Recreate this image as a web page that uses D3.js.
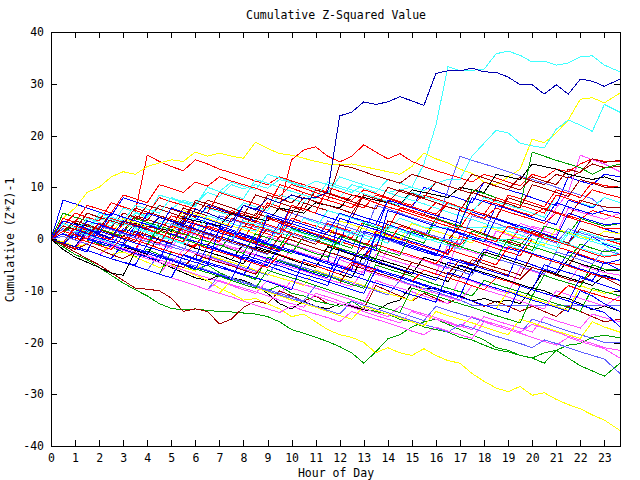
<!DOCTYPE html>
<html>
<head>
<meta charset="utf-8">
<script src="https://cdn.jsdelivr.net/npm/d3@7"></script>
<style>
  body { margin: 0; background: #fff; }
  svg text { font-family: "DejaVu Sans Mono", monospace; font-size: 11.5px; fill: #000; }
</style>
</head>
<body>
<script>
// sample hours (every half hour, last sample just before midnight)
const hours = [0, 0.5, 1, 1.5, 2, 2.5, 3, 3.5,  4, 4.5, 5, 5.5, 6, 6.5, 7, 7.5,  8, 8.5, 9, 9.5, 10, 10.5, 11, 11.5,
  12, 12.5, 13, 13.5, 14, 14.5, 15, 15.5,  16, 16.5, 17, 17.5, 18, 18.5, 19, 19.5,  20, 20.5, 21, 21.5, 22, 22.5, 23, 23.65];
const hourTicks = [0, 1, 2, 3, 4, 5, 6, 7, 8, 9, 10, 11, 12, 13, 14, 15, 16, 17, 18, 19, 20, 21, 22, 23];
const valueTicks = [-40, -30, -20, -10, 0, 10, 20, 30, 40];

// red
const red1 = [0, 2, 1.2, 4, 3.2, 2.5, 6, 5.2,  16.2, 15, 14, 13.2, 15.3, 14.5, 13.5, 12.8,  12, 11.2, 10.5, 12, 11.2, 10.5, 9.8, 9,  8.2, 7.5, 9.5, 8.8, 8, 7.2, 6.5, 8.5,  7.8, 7, 6.2, 5.5, 7.5, 6.8, 6, 5.2,  4.5, 6, 5.2, 4.5, 3.8, 5.5, 4.8, 4];
const red2 = [0, 1.5, 0.8, 0, 2.5, 1.8, 1, 0.2,  3, 2.2, 1.5, 0.8, 4, 3.2, 2.5, 5.5,  4.8, 4, 7, 6.2, 15.3, 17.2, 17.8, 16,  14.9, 16, 18.2, 16.8, 15.5, 16.5, 15, 14,  13.2, 12.5, 11.8, 11, 12.5, 11.8, 11, 10.3,  12.5, 11.8, 13.5, 13, 14.5, 15.5, 15, 15];
const red3 = [0, -1, 2, 1.2, 0.5, -0.2, 3, 2.2,  1.5, 0.8, 0, 2.5, 1.8, 1, 0.2, -0.5,  2.5, 1.8, 1, 0.2, 4, 3.2, 2.5, 1.8,  1, 0.2, 3.5, 2.8, 2, 6, 5.2, 4.5,  3.8, 3, 2.2, 5.5, 4.8, 4, 8.5, 7.8,  7, 6.2, 9.5, 8.8, 8, 11, 10.3, 10];
const red4 = [0, 3, 2.2, 1.5, 5, 4.2, 3.5, 2.8,  2, 1.2, 4.5, 3.8, 3, 2.2, 1.5, 0.8,  0, 3.5, 2.8, 2, 1.2, 0.5, -0.2, 3,  2.2, 1.5, 0.8, 0, -0.8, 2.5, 1.8, 1,  0.2, -0.5, -1.2, 1.5, 0.8, 0, -0.8, 2,  1.2, 0.5, -0.2, -1, 1.5, 0.8, 0, -1];
const red5 = [0, -1, -1.8, 1, 0.2, -0.5, -1.2, -2,  1.5, 0.8, 0, -0.8, -1.5, 2.5, 1.8, 1,  0.2, -0.5, 4, 3.2, 2.5, 1.8, 1, 0.2,  -0.5, -1.2, -2, 1.5, 0.8, 0, -0.8, -1.5,  -2.2, -3, 0.5, -0.2, -1, -1.8, -2.5, -3.2,  0, -0.8, -1.5, -2.2, -3, -3.8, -4.5, -5];
const red6 = [0, -0.8, 2.5, 1.8, 1, 4, 3.2, 2.5,  1.8, 1, 0.2, -0.5, 3, 2.2, 1.5, 0.8,  0, -0.8, -1.5, -2.2, 1, 0.2, -0.5, -1.2,  -2, -2.8, -3.5, -1, -1.8, -2.5, -3.2, -4,  -4.8, -2, -2.8, -3.5, -4.2, -5, -1.5, -2.2,  -3, -3.8, -4.5, -5.2, -6, -6.8, -7.5, -8];
const red7 = [0, 2.5, 5, 4.2, 3.5, 7, 6.2, 5.5,  4.8, 8, 7.2, 6.5, 5.8, 5, 9, 8.2,  7.5, 6.8, 6, 10.5, 9.8, 9, 8.2, 7.5,  6.8, 6, 8.5, 7.8, 7, 6.2, 5.5, 4.8,  7, 6.2, 5.5, 4.8, 4, 6, 5.2, 4.5,  3.8, 3, 5, 4.2, 3.5, 2.8, 2, 2];
const red8 = [0, 1, 0.2, -0.5, -1.2, -2, 0.5, -0.2,  -1, -1.8, -2.5, -3.2, -1, -1.8, -2.5, -3.2,  -4, -4.8, -5.5, -3, -3.8, -4.5, -5.2, -6,  -6.8, -4.5, -5.2, -6, -6.8, -7.5, -8.2, -6,  -6.8, -7.5, -8.2, -9, -9.8, -7.5, -8.2, -9,  -9.8, -10.5, -11.2, -9, -9.8, -10.5, -11.2, -12];
const red9 = [0, 4, 3.2, 6.5, 5.8, 5, 8.5, 7.8,  7, 10.5, 9.8, 9, 11, 10.2, 12, 11.2,  10.5, 9.8, 9, 8.2, 10.5, 9.8, 9, 8.2,  7.5, 6.8, 6, 8.5, 7.8, 7, 6.2, 5.5,  4.8, 7, 6.2, 5.5, 4.8, 8, 7.2, 6.5,  5.8, 5, 8.5, 7.8, 7, 9.5, 8.8, 8];
const red10 = [0, 1.5, 0.8, 0, 3, 2.2, 1.5, 0.8,  0, -0.8, 2.5, 1.8, 1, 0.2, -0.5, 4,  3.2, 2.5, 1.8, 1, 6.5, 5.8, 5, 10,  9.2, 8.5, 7.8, 7, 6.2, 5.5, 4.8, 4,  3.2, 2.5, 1.8, 1, 0.2, -0.5, 2.5, 1.8,  1, 0.2, -0.5, -1.2, -2, -2.8, -3.5, -3];

// dark red
const darkRed1 = [0, -1.2, -2.5, -3.8, -5, -6.5, -8, -9.5,  -9.7, -10, -11.4, -14, -13.5, -14, -16.4, -15.5,  -13.2, -12, -12.5, -10, -11, -12, -11, -12.5,  -13, -12, -13.5, -9, -10, -11, -12, -10.5,  -11.5, -12.5, -11, -12, -13, -12, -13, -14,  -13, -14, -15, -13, -14, -15, -16, -15.5];
const darkRed2 = [0, -1, 1.5, 0.8, 3, 2.2, 5, 4.2,  3.5, 6.5, 5.8, 5, 4.2, 7.5, 6.8, 6,  5.2, 4.5, 8.5, 7.8, 7, 9, 8.2, 7.5,  14.3, 13.8, 13, 12.2, 11.5, 10.8, 12.5, 11.8,  11, 10.2, 9.5, 8.8, 11, 10.2, 9.5, 12,  11.2, 10.5, 12.5, 11.8, 13, 14.5, 13.8, 14];
const darkRed3 = [0, 2, 1.2, 0.5, 3, 2.2, 1.5, 4.5,  3.8, 3, 2.2, 6, 5.2, 4.5, 3.8, 3,  2.2, 5, 4.2, 3.5, 2.8, 7, 6.2, 5.5,  4.8, 4, 8.5, 7.8, 7, 6.2, 5.5, 4.8,  4, 7, 6.2, 5.5, 4.8, 4, 8, 7.2,  6.5, 5.8, 5, 4.2, 7.5, 6.8, 6.2, 6];
const darkRed4 = [0, 1, -0.2, 2.5, 1.8, 1, 0.2, -0.5,  2.5, 1.8, 1, 0.2, -0.5, -1.2, 1.5, 0.8,  0, -0.8, 2, 1.2, 0.5, -0.2, -1, 1.5,  0.8, 0, -0.8, -1.5, 3.5, 2.8, 2, 1.2,  0.5, -0.2, 2.5, 1.8, 1, 0.2, -0.5, -1.2,  1.5, 0.8, 0, -0.8, 2, 1.2, 0.5, 0];
const darkRed5 = [0, -1, -2, -1, -2, -3, -3.8, -2.5,  -3.2, -4, -4.8, -5.5, -3, -3.8, -4.5, -5.2,  -6, -6.8, -4, -4.8, -5.5, -6.2, -7, -7.8,  -8.5, -5, -5.8, -6.5, -7.2, -8, -4.5, -5.2,  -6, -6.8, -7.5, -4, -4.8, -5.5, -6.2, -7,  -3, -3.8, -4.5, -5.2, -2, -2.8, -3.5, -3];
const darkRed6 = [0, 2.5, 1.8, 1, 0.2, -0.5, -1.2, 1.5,  0.8, 0, -0.8, 2.5, 1.8, 1, 0.2, -0.5,  -1.2, -2, -2.8, 0.5, -0.2, -1, -1.8, -2.5,  -3.2, -4, -1.5, -2.2, -3, -3.8, -4.5, -5.2,  -6, -6.8, -4, -4.8, -5.5, -6.2, -7, -7.8,  -5.5, -6.2, -7, -7.8, -8.5, -6.5, -7.5, -9];
const darkRed7 = [0, 1.5, 3.5, 2.8, 2, 5, 4.2, 3.5,  6.5, 5.8, 5, 4.2, 7, 6.2, 5.5, 4.8,  4, 3.2, 6.5, 5.8, 5, 8, 7.2, 6.5,  5.8, 5, 8.5, 7.8, 7, 9.5, 8.8, 8,  11, 10.2, 9.5, 12.5, 11.8, 11, 10.2, 9.5,  12, 11.2, 10.5, 13.5, 12.8, 15.5, 14.8, 15.2];
const darkRed8 = [0, 2.5, 1.8, 5, 4.2, 3.5, 2.8, 6,  5.2, 4.5, 3.8, 3, 7.5, 6.8, 6, 5.2,  4.5, 8.5, 7.8, 7, 6.2, 5.5, 9.5, 8.8,  8, 7.2, 6.5, 5.8, 10, 9.2, 8.5, 7.8,  7, 6.2, 5.5, 9, 8.2, 7.5, 6.8, 6,  10.5, 9.8, 9, 8.2, 11.5, 10.8, 10, 10];

// blue
const blue1 = [0, 7.5, 6.8, 6, 5.2, 4.5, 8, 7.2,  6.5, 5.8, 5, 4.2, 3.5, 6.5, 5.8, 5,  4.2, 3.5, 2.8, 2, 6.5, 5.8, 5, 4.2,  3.5, 2.8, 2, 1.2, 7.5, 6.8, 6, 10,  9.2, 8.5, 7.8, 7, 11, 10.2, 9.5, 8.8,  8, 7.2, 6.5, 12, 11.2, 10.5, 12.5, 12];
const blue2 = [0, -1, -1.8, 1.5, 0.8, 0, -0.8, 2.5,  1.8, 1, 0.2, -0.5, 4, 3.2, 2.5, 1.8,  1, 0.2, -0.5, 3, 2.2, 1.5, 0.8, 0,  -0.8, 5, 4.2, 3.5, 2.8, 2, 1.2, 0.5,  4, 3.2, 2.5, 1.8, 1, 6.5, 5.8, 5,  4.2, 3.5, 2.8, 7.5, 6.8, 6, 8, 7];
const blue3 = [0, -1, -1.8, -2.5, 2, 1.2, 0.5, -0.2,  -1, -1.8, -2.5, -3.2, -4, 3, 2.2, 1.5,  0.8, 0, -0.8, -1.5, -2.2, -3, -3.8, -4.5,  4, 3.2, 2.5, 1.8, 1, 0.2, -0.5, -1.2,  -2, -2.8, 6, 5.2, 4.5, 3.8, 3, 2.2,  1.5, 0.8, 0, -0.8, 3.5, 2.8, 2, 1];
const blue4 = [0, 1.5, 0.8, 0, -0.8, -1.5, 2, 1.2,  0.5, -0.2, -1, 3.5, 2.8, 2, 1.2, 0.5,  -0.2, -1, -1.8, -2.5, 1, 0.2, -0.5, -1.2,  -2, -2.8, -3.5, 0.5, -0.2, -1, -1.8, -2.5,  -3.2, 2, 1.2, 0.5, -0.2, -1, -1.8, -2.5,  1, 0.2, -0.5, -1.2, -2, 0.5, -1, -2];
const blue5 = [0, -1, 1, 0.2, -0.5, -1.2, -2, -2.8,  -3.5, -4.2, 1, 0.2, -0.5, -1.2, -2, -2.8,  -3.5, -4.2, -5, -1.5, -2.2, -3, -3.8, -4.5,  -5.2, -6, 1.5, 0.8, 0, -0.8, -1.5, -2.2,  -3, -3.8, -4.5, -5.2, -2, -2.8, -3.5, -4.2,  -5, -5.8, -6.5, -2.5, -3.2, -4, -4.8, -4];
const blue6 = [0, -0.8, -1.5, -2.2, -3, -3.8, -4.5, -5,  -1, -1.8, -2.5, -3.2, -4, -4.8, -5.5, -6.2,  -7, -3, -3.8, -4.5, -5.2, -6, -6.8, -7.5,  -2, -2.8, -3.5, -4.2, -5, -5.8, -6.5, -7.2,  -8, -4.5, -5.2, -6, -6.8, -7.5, -8.2, -9,  -9.8, -5, -5.8, -6.5, -7.2, -8, -4.5, -6];
const blue7 = [0, 2.5, 1.8, 1, 0.2, -0.5, -1.2, -2,  -2.8, -3.5, -4.2, -5, -5.8, -1.5, -2.2, -3,  -3.8, -4.5, -5.2, -6, -6.8, -7.5, -8.2, -9,  -3.5, -4.2, -5, -5.8, -6.5, -7.2, -8, -8.8,  -9.5, -10.2, -11, -6, -6.8, -7.5, -8.2, -9,  -9.8, -10.5, -11.2, -12, -7.5, -8.2, -9, -10];
const blue8 = [0, -0.8, -1.5, -2.2, -3, -3.8, -4.5, -5.2,  -6, -6.8, -7.5, -3, -3.8, -4.5, -5.2, -6,  -6.8, -7.5, -8.2, -9, -9.8, -4, -4.8, -5.5,  -6.2, -7, -7.8, -8.5, -9.2, -10, -10.8, -11.5,  -12.2, -6.5, -7.2, -8, -8.8, -9.5, -10.2, -11,  -11.8, -12.5, -13.2, -14, -10, -11, -12.5, -14];
const blue9 = [0, 1, 0.2, 3.5, 2.8, 2, 1.2, 0.5,  5, 4.2, 3.5, 2.8, 2, 1.2, 0.5, -0.2,  -1, -1.8, 4.5, 3.8, 3, 2.2, 1.5, 0.8,  0, -0.8, -1.5, -2.2, 5.5, 4.8, 4, 3.2,  2.5, 1.8, 1, 0.2, -0.5, 4, 3.2, 2.5,  1.8, 1, 0.2, 5, 4.2, 3.5, 2.8, 3];
const blue10 = [0, -0.8, -1.5, -2.2, -3, -3.8, -1, -1.8,  -2.5, -3.2, -4, -4.8, -5.5, -6.2, -7, -7.8,  -3, -3.8, -4.5, -5.2, -6, -6.8, -7.5, -8.2,  -9, -9.8, -10.5, -6, -6.8, -7.5, -8.2, -9,  -9.8, -10.5, -11.2, -12, -12.8, -13.5, -14.2, -9,  -9.8, -10.5, -11.2, -12, -12.8, -13.5, -14.2, -17];
const blue11 = [0, 3.5, 2.8, 2, 1.2, 5, 4.2, 3.5,  2.8, 2, 6, 5.2, 4.5, 3.8, 3, 2.2,  6.5, 5.8, 5, 4.2, 3.5, 2.8, 2, 1.2,  5, 4.2, 3.5, 2.8, 7.5, 6.8, 6, 5.2,  4.5, 3.8, 3, 8, 7.2, 6.5, 5.8, 5,  4.2, 3.5, 7, 6.2, 5.5, 4.8, 5.5, 5];
const blue12 = [0, -0.8, -1.5, -2.2, 1.5, 0.8, 0, -0.8,  -1.5, -2.2, -3, -3.8, -4.5, -5.2, 2, 1.2,  0.5, -0.2, -1, -1.8, -2.5, -3.2, -4, -4.8,  -5.5, -6.2, -7, 1, 0.2, -0.5, -1.2, -2,  -2.8, -3.5, -4.2, -5, -5.8, -6.5, -7.2, -2,  -2.8, -3.5, -4.2, -5, -5.8, -6.5, -7.2, -8];
const navy1 = [0, -0.8, -1.5, 1.8, 1, 0.2, 3.5, 2.6,  1.8, 4.2, 3.4, 2.5, 5.8, 5, 4.1, 3.3,  6.5, 5.6, 7.8, 7, 8.5, 7.8, 8, 9,  23.8, 24.5, 26.5, 26, 26.5, 27.5, 26.7, 25.8,  32, 32.5, 32.5, 33, 32.3, 32.2, 31.3, 29.8,  29.8, 28, 29.8, 28, 30.9, 30.5, 29.5, 30.9];

// magenta
const magenta1 = [0, -0.8, -1.5, 1, 0.2, -0.5, -1.2, -2,  0.5, -0.2, -1, -1.8, -2.5, -3.2, -1, -1.8,  -2.5, -3.2, -4, -4.8, -2, -2.8, -3.5, -4.2,  -5, -5.8, -6.5, -3, -3.8, -4.5, -5.2, -6,  -6.8, -1, -1.8, -2.5, -3.2, 1.5, 0.8, 0,  2.5, 1.8, 6, 9, 16.2, 15.3, 14.5, 13];
const magenta2 = [0, 1.5, 0.8, 0, -0.8, 2, 1.2, 0.5,  -0.2, -1, -1.8, 1.5, 0.8, 0, -0.8, -1.5,  -2.2, -3, 0.5, -0.2, -1, -1.8, -2.5, -3.2,  -4, -4.8, -5.5, -6.2, -2, -2.8, -3.5, -4.2,  -5, -5.8, 1, 0.2, -0.5, -1.2, -2, 3,  2.2, 1.5, 0.8, 6, 5.2, 4.5, 3.8, 5];
const magenta3 = [0, -0.8, -1.5, -2.2, -3, -3.8, -4.5, -5.2,  -6, -6.8, -4, -4.8, -5.5, -6.2, -7, -7.8,  -8.5, -9.2, -10, -10.8, -8, -8.8, -9.5, -10.2,  -11, -11.8, -12.5, -8, -8.8, -9.5, -10.2, -11,  -11.8, -12.5, -7.5, -8.2, -9, -9.8, -10.5, -5.5,  -6.2, -7, -7.8, -8.5, -5, -5.8, -6.5, -7];
const magenta4 = [0, -0.8, -1.5, -2.2, -3, -3.8, -4.5, -5.2,  -6, -6.8, -7.5, -8.2, -9, -9.8, -8, -8.8,  -9.5, -10.2, -11, -11.8, -12.5, -13.2, -10.5, -11.2,  -12, -12.8, -13.5, -14.2, -15, -13, -13.8, -14.5,  -15.2, -16, -16.8, -17.5, -15, -15.8, -16.5, -17.2,  -18, -15, -15.8, -16.5, -17.2, -14.5, -15.2, -16];
const magenta5 = [0, -0.8, -1.5, -2.2, -3, -1.5, -2.2, -3,  -3.8, -4.5, -5.2, -6, -6.8, -7.5, -8.2, -9,  -9.8, -10.5, -8, -8.8, -9.5, -10.2, -11, -11.8,  -12.5, -13.2, -14, -14.8, -15.5, -16.2, -14, -14.8,  -15.5, -16.2, -17, -15, -15.8, -16.5, -17.2, -18,  -16.5, -17.2, -18, -18.8, -19.5, -20.2, -21, -21.5];
const magenta6 = [0, -0.8, -1.5, -2.2, -3, -3.8, -4.5, -5.2,  -6, -6.8, -7.5, -8.2, -9, -9.8, -10.5, -11.2,  -12, -12.8, -13.5, -14.2, -13, -13.8, -14.5, -15.2,  -16, -14, -14.8, -15.5, -16.2, -17, -17.8, -18.5,  -17, -17.8, -18.5, -19.2, -16, -16.8, -17.5, -18.2,  -19, -19.8, -20.5, -19, -19.8, -20.5, -21.2, -23];
const magenta7 = [0, -0.8, -1.5, 0.5, -0.2, -1, -1.8, -2.5,  -3.2, -4, -4.8, -2, -2.8, -3.5, -4.2, -5,  -5.8, -6.5, -4, -4.8, -5.5, -6.2, -7, -7.8,  -8.5, -9.2, -6, -6.8, -7.5, -8.2, -9, -9.8,  -10.5, -11.2, -12, -9, -9.8, -10.5, -11.2, -12,  -12.8, -13.5, -10, -10.8, -11.5, -12.2, -13, -11];

// cyan
const cyan1 = [0, 1.5, 0.8, 2.5, 4, 3.2, 2.5, 5,  4.2, 6.5, 5.8, 7.5, 6.8, 9, 8.2, 10.5,  9.7, 10.5, 9.8, 11.5, 10.8, 10, 11.2, 10.5,  9.8, 9, 10.5, 9.8, 9, 9.5, 10, 14.5,  22, 33.3, 32.5, 32.6, 32.8, 35.8, 36.3, 35.5,  34.2, 34.4, 33.6, 34, 35.2, 35.4, 33.6, 32.3];
const cyan2 = [0, -0.5, 1.5, 1, 3, 2.2, 1.5, 0.8,  3, 2.2, 1.5, 4.5, 3.8, 6, 5.2, 4.5,  7, 6.2, 5.5, 8.5, 7.8, 7, 9.5, 8.8,  8, 10.5, 9.8, 9, 11.5, 10.8, 10, 9.3,  10.8, 11.5, 11.5, 16, 18.5, 21, 20.5, 18.5,  18, 17.6, 21.2, 23, 22, 20.8, 26, 24.5];
const cyan3 = [0, 2, 1.2, 4, 3.2, 2.5, 6, 5.2,  4.5, 8.5, 7.8, 7, 6.2, 10, 9.2, 8.5,  7.8, 11.5, 10.8, 10, 9.2, 8.5, 7.8, 11,  10.2, 9.5, 8.8, 8, 7.2, 6.5, 9, 8.2,  7.5, 6.8, 6, 5.2, 8, 7.2, 6.5, 5.8,  5, 4.2, 8.5, 7.8, 7, 6.2, 8, 7];
const cyan4 = [0, 1.5, 0.8, 0, 2.5, 1.8, 1, 0.2,  -0.5, 3.5, 2.8, 2, 1.2, 4.5, 3.8, 3,  2.2, 1.5, 5, 4.2, 3.5, 2.8, 2, 5.5,  4.8, 4, 3.2, 2.5, 1.8, 4, 3.2, 2.3,  2.3, 2.3, 2.3, 2.3, 2.3, 2.3, 2.3, 2.3,  1.5, 0.8, 0, -0.8, 1.5, 0.8, 0, -0.5];
const cyan5 = [0, -0.8, 1.5, 0.8, 0, -0.8, -1.5, 2,  1.2, 0.5, -0.2, -1, 3, 2.2, 1.5, 0.8,  0, -0.8, -1.5, 2.5, 1.8, 1, 0.2, -0.5,  -1.2, 1.5, 0.8, 0, -0.8, 1.5, 0.8, 0,  0, 0, 0, 0, 0, 0, 0, 0,  -0.8, -1.5, -2.2, 1, 0.2, -0.5, -1.2, -3];
const cyan6 = [0, 2.5, 1.8, 1, 4.5, 3.8, 3, 2.2,  1.5, 0.8, 0, -0.8, 2, 1.2, 0.5, -0.2,  3.5, 2.8, 2, 1.2, 0.5, 4, 3.2, 2.5,  1.8, 1, 0.2, -0.5, 2.5, 1.8, 1, 0.2,  -0.5, -1.2, -2, 1, 0.2, -0.5, -1.2, -2,  -2.8, 0.5, -0.2, -1, -1.8, -2.5, -3.2, -3];
const cyan7 = [0, 3, 2.2, 1.5, 5, 4.2, 3.5, 6.5,  5.8, 5, 8, 7.2, 6.5, 10, 9.2, 11,  10.2, 9.5, 12.5, 11.8, 11, 10.2, 9.5, 8.8,  12, 11.2, 10.5, 9.8, 9, 8.2, 7.5, 6.8,  6, 5.2, 4.5, 3.8, 3, 2.2, 1.5, 0.8,  0, -0.8, -1.5, 1.5, 0.8, 0, -0.8, -1.5];

// green
const green1 = [0, -1.5, -3, -4, -5.5, -7, -8.5, -9.8,  -11, -12.5, -13.4, -13.7, -13.5, -13.8, -14, -14.1,  -14.3, -14.5, -15, -16, -17.5, -18.2, -19, -19.8,  -20.8, -22, -24, -21.8, -19.3, -18.5, -17, -16,  -15.5, -16.5, -17.5, -18.5, -19.5, -21, -21.5, -22.5,  -23, -22, -21.5, -23, -24.5, -25.5, -26.5, -24];
const green2 = [0, -0.5, 1, 0, -1, -1.5, -2.5, -3.5,  -2, -3, -4, -5, -6, -5, -6.5, -7.5,  -8.5, -9, -10, -9, -10.5, -11, -12, -12.5,  -13, -12, -13.5, -14, -14.5, -15.5, -16, -17,  -17.5, -18, -19, -19.5, -20.5, -21.4, -21.8, -22.5,  -23, -24, -21.5, -20.5, -20.2, -19, -18.6, -19.1];
const green3 = [0, 5, 4.2, 3.5, 2.8, 2, 1.2, 4,  3.2, 2.5, 1.8, 1, 0.2, 3, 2.2, 1.5,  0.8, 0, -0.8, -1.5, 2, 1.2, 0.5, -0.2,  -1, -1.8, 3, 2.2, 1.5, 0.8, 0, -0.8,  4, 3.2, 2.5, 9.5, 8.8, 8, 7.2, 6.5,  16.8, 16, 15.2, 14.5, 13.8, 12.5, 13.7, 14.5];
const green4 = [0, 1, 0.2, -0.5, 2, 1.2, 0.5, -0.2,  -1, 1.5, 0.8, 0, -0.8, -1.5, -2.2, 1,  0.2, -0.5, -1.2, -2, -2.8, 0.5, -0.2, -1,  -1.8, -2.5, -3.2, -4, 2.5, 1.8, 1, 0.2,  -0.5, -1.2, -2, 1.5, 0.8, 0, -0.8, -1.5,  -2.2, 2.5, 1.8, 1, 4, 3.2, 2.5, 3];
const green5 = [0, -0.8, -1.5, -2.2, -3, -3.8, -4.5, -5.2,  -6, -6.8, -2.5, -3.2, -4, -4.8, -5.5, -6.2,  -7, -7.8, -3.5, -4.2, -5, -5.8, -6.5, -7.2,  -8, -8.8, -9.5, -5, -5.8, -6.5, -7.2, -8,  -8.8, -9.5, -10.2, -11, -8, -8.8, -9.5, -10.2,  -11, -7, -7.8, -8.5, -9.2, -5, -5.8, -6];
const green6 = [0, 2.5, 1.8, 1, 0.2, -0.5, -1.2, -2,  -2.8, -3.5, -4.2, -5, -5.8, -6.5, -7.2, -8,  -8.8, -9.5, -6, -6.8, -7.5, -8.2, -9, -9.8,  -10.5, -11.2, -12, -12.8, -13.5, -14.2, -9.5, -10.2,  -11, -11.8, -12.5, -13.2, -14, -14.8, -15.5, -16.2,  -11, -11.8, -12.5, -13.2, -14, -9.5, -10.2, -11];
const green7 = [0, 1, 3.5, 2.8, 2, 1.2, 0.5, -0.2,  -1, 2.5, 1.8, 1, 0.2, -0.5, -1.2, -2,  -2.8, 1, 0.2, -0.5, -1.2, -2, -2.8, -3.5,  0.5, -0.2, -1, -1.8, -2.5, -3.2, 1.5, 0.8,  0, -0.8, -1.5, -2.2, -3, -3.8, 0, -0.8,  -1.5, -2.2, -3, -3.8, -1, -1.8, -2.5, -2];

// slate blue
const slate1 = [0, 1.5, 0.8, 3.5, 2.8, 2, 1.2, 0.5,  -0.2, 3, 2.2, 1.5, 0.8, 0, 4.5, 3.8,  3, 2.2, 1.5, 0.8, 5, 4.2, 3.5, 2.8,  2, 1.2, 0.5, 6.5, 5.8, 5, 4.2, 3.5,  2.8, 9.5, 16, 15.2, 14.5, 13.8, 13, 12.2,  11.5, 10.8, 10, 9.2, 8.5, 7.8, 5.5, 5];
const slate2 = [0, -0.8, -1.5, 1, 0.2, -0.5, -1.2, -2,  -2.8, -3.5, -1, -1.8, -2.5, -3.2, -4, -4.8,  -5.5, -6.2, -7, -4, -4.8, -5.5, -6.2, -7,  -7.8, -8.5, -9.2, -10, -10.8, -8, -8.8, -9.5,  -10.2, -11, -11.8, -12.8, -12.8, -12.8, -12.8, -12.8,  -12.8, -12.8, -12.8, -12.8, -12.8, -12.8, -12.8, -12.8];
const slate3 = [0, -0.8, -1.5, -2.2, -3, -3.8, -4.5, -5.2,  -6, -3, -3.8, -4.5, -5.2, -6, -6.8, -7.5,  -8.2, -9, -9.8, -10.5, -11.2, -12, -9, -9.8,  -10.5, -11.2, -12, -12.8, -13.5, -14.2, -15, -15.8,  -13, -13.8, -14.5, -15.2, -16, -16.8, -17.5, -18.2,  -15.5, -16.2, -17, -17.8, -18.5, -19.2, -20, -20];
const slate4 = [0, -0.8, -1.5, -2.2, -3, -3.8, -4.5, -5.2,  -6, -6.8, -7.5, -8.2, -9, -9.8, -7, -7.8,  -8.5, -9.2, -10, -10.8, -11.5, -12.2, -13, -13.8,  -14.5, -12, -12.8, -13.5, -14.2, -15, -15.8, -16.5,  -17.2, -18, -16.5, -17.2, -18, -18.8, -19.5, -20.2,  -21, -19.5, -20.2, -21, -21.8, -22.5, -23.2, -26];
const slate5 = [0, 2, 1.2, 0.5, -0.2, -1, 1.5, 0.8,  0, -0.8, -1.5, -2.2, 1.5, 0.8, 0, -0.8,  -1.5, -2.2, -3, 0.5, -0.2, -1, -1.8, -2.5,  -3.2, -4, -4.8, -1, -1.8, -2.5, -3.2, -4,  -4.8, -5.5, -6.2, -7, -3, -3.8, -4.5, -5.2,  -6, -6.8, -2.5, -3.2, -4, -4.8, -2, -3];
const slate6 = [0, 0.5, -0.2, -1, 2.5, 1.8, 1, 0.2,  -0.5, -1.2, 3, 2.2, 1.5, 0.8, 0, -0.8,  4, 3.2, 2.5, 1.8, 1, 0.2, -0.5, 3.5,  2.8, 2, 1.2, 0.5, -0.2, -1, 2, 1.2,  0.5, -0.2, -1, 4.5, 3.8, 3, 2.2, 1.5,  0.8, 0, -0.8, 2, 1.2, 0.5, -0.2, 0];

// black
const black1 = [0, -2, -3.5, -4.5, -5.5, -6.6, -7, -2.5,  -3.5, -4.5, -5.5, -6.5, -7.5, -8, -7, -7.5,  -8, -9, -10.5, -12.5, -13.5, -12, -13, -13.5,  -12.5, -13, -13.7, -14, -12.5, -11.8, -8.9, -9.5,  -9.5, -10.5, -11, -12, -11.5, -12.2, -11.8, -12.5,  -9.5, -10, -11, -11.5, -12.5, -13.7, -13, -14];
const black2 = [0, 1, 3, 2.5, 2, 1, 0.5, 3,  2.5, 2, 1.5, 4, 3.5, 3, 2.5, 5,  4.5, 4, 3.5, 6, 5.5, 5, 7, 6.5,  6, 8.5, 8, 7.5, 7, 6.5, 9.5, 9,  8.5, 8, 10, 9.5, 9, 12.5, 12, 11.5,  14.5, 14, 13.5, 12.5, 12, 11.5, 12, 11];
const black3 = [0, -0.8, -1.5, 1, 0.2, -0.5, -1.2, -2,  -2.8, 0.5, -0.2, -1, -1.8, -2.5, -3.2, -4,  -4.8, -1.5, -2.2, -3, -3.8, -4.5, -5.2, -6,  -6.8, -7.5, -3, -3.8, -4.5, -5.2, -6, -6.8,  -7.5, -8.2, -5, -5.8, -6.5, -7.2, -8, -8.8,  -9.5, -6, -6.8, -7.5, -8.2, -9, -7, -8];
const black4 = [0, -0.8, 1.5, 0.8, 0, -0.8, -1.5, -2.2,  -3, 0.5, -0.2, -1, -1.8, -2.5, -3.2, -4,  -1, -1.8, -2.5, -3.2, -4, -4.8, -5.5, -1.5,  -2.2, -3, -3.8, -4.5, -5.2, -6, -6.8, -3.5,  -4.2, -5, -5.8, -6.5, -2.5, -3.2, -4, -4.8,  -5.5, -6.2, -7, -4, -4.8, -5.5, -6.2, -6];

// yellow
const yellow1 = [0, 4, 6, 9, 10, 12, 13, 12.5,  14, 14.7, 15.3, 15, 16.8, 16, 16.6, 16,  15.6, 18.7, 17.5, 16.5, 16.2, 15.6, 15, 14.5,  14.3, 14.5, 14, 13.5, 13, 12.5, 14, 16.6,  15.5, 14.7, 13.5, 12.7, 11, 10.5, 12, 13.5,  19.3, 18.6, 20.5, 23, 27, 27.3, 26.3, 28.2];
const yellow2 = [0, -0.5, -1.5, -1, -2, -3, -2.5, -3.5,  -4.5, -5.5, -5, -6, -7, -8, -9.5, -10.5,  -11.8, -11.5, -12.5, -13.5, -15, -14.5, -16, -17.5,  -18.5, -19, -20, -22, -21, -22, -22.5, -21.2,  -22.5, -23.5, -24, -26, -27.5, -28.8, -29.5, -28.5,  -30.2, -29.7, -31, -32, -32.8, -34, -35, -37];
const yellow3 = [0, 1, 0.2, 2.5, 1.8, 1, 4, 3.2,  2.5, 1.8, 1, 5.5, 4.8, 4, 3.2, 2.5,  1.8, 1, 4, 3.2, 2.5, 1.8, 1, 0.2,  3.5, 2.8, 2, 1.2, 0.5, -0.2, 3, 2.2,  1.5, 0.8, 0, -0.8, 2.5, 1.8, 1, 0.2,  -0.5, -1.2, 2, 1.2, 0.5, -0.2, 1.5, 1];
const yellow4 = [0, -0.8, -1.5, -2.2, -3, -1, -1.8, -2.5,  -3.2, -4, -4.8, -5.5, -6.2, -3, -3.8, -4.5,  -5.2, -6, -6.8, -7.5, -8.2, -9, -6, -6.8,  -7.5, -8.2, -9, -9.8, -10.5, -11.2, -12, -9,  -9.8, -10.5, -11.2, -12, -12.8, -13.5, -10, -10.8,  -11.5, -12.2, -13, -13.8, -9, -9.8, -10.5, -10];
const yellow5 = [0, -0.8, -1.5, -2.2, -3, -3.8, -4.5, -5.2,  -6, -6.8, -7.5, -8.2, -9, -9.8, -10.5, -8,  -8.8, -9.5, -10.2, -11, -11.8, -12.5, -13.2, -14,  -14.8, -15.5, -13, -13.8, -14.5, -15.2, -16, -16.8,  -14, -14.8, -15.5, -16.2, -17, -17.8, -18.5, -15.5,  -16.2, -17, -17.8, -18.5, -19.2, -16, -17, -18];

const RED = "#ff0000", GREEN = "#00a000", BLUE = "#0000ff", MAGENTA = "#ff50ff", CYAN = "#40ffff",
  DARKRED = "#a00000", YELLOW = "#ffff00", BLACK = "#000000", SLATE = "#6060ff", NAVY = "#0000b0";

const series = [
  [red1, RED], [green1, GREEN], [blue1, BLUE], [magenta1, MAGENTA], [cyan1, CYAN], [darkRed1, DARKRED], [yellow1, YELLOW], [black1, BLACK], [slate1, SLATE],
  [red2, RED], [green2, GREEN], [blue2, BLUE], [magenta2, MAGENTA], [cyan2, CYAN], [darkRed2, DARKRED], [yellow2, YELLOW], [black2, BLACK], [slate2, SLATE],
  [red3, RED], [green3, GREEN], [blue3, BLUE], [magenta3, MAGENTA], [cyan3, CYAN], [darkRed3, DARKRED], [yellow3, YELLOW], [black3, BLACK], [slate3, SLATE],
  [red4, RED], [green4, GREEN], [blue4, BLUE], [magenta4, MAGENTA], [cyan4, CYAN], [darkRed4, DARKRED], [yellow4, YELLOW], [black4, BLACK], [slate4, SLATE],
  [red5, RED], [green5, GREEN], [blue5, BLUE], [magenta5, MAGENTA], [cyan5, CYAN], [darkRed5, DARKRED], [yellow5, YELLOW], [slate5, SLATE],
  [red6, RED], [green6, GREEN], [blue6, BLUE], [magenta6, MAGENTA], [cyan6, CYAN], [darkRed6, DARKRED], [slate6, SLATE],
  [red7, RED], [green7, GREEN], [blue7, BLUE], [magenta7, MAGENTA], [cyan7, CYAN], [darkRed7, DARKRED],
  [red8, RED], [blue8, BLUE], [darkRed8, DARKRED], [red9, RED], [blue9, BLUE], [red10, RED], [blue10, BLUE],
  [blue11, BLUE], [blue12, BLUE], [navy1, NAVY]
];

const width = 640, height = 480;
const plotLeft = 51, plotRight = 620, plotTop = 32, plotBottom = 446;
const tickLen = 6;

const svg = d3.select("body")
  .append("svg")
  .attr("width", width)
  .attr("height", height);

const x = d3.scaleLinear().domain([0, 23.65]).range([plotLeft, plotRight]);
const y = d3.scaleLinear().domain([-40, 40]).range([plotBottom, plotTop]);

svg.append("defs").append("clipPath").attr("id", "plot-clip")
  .append("rect")
  .attr("x", plotLeft).attr("y", plotTop)
  .attr("width", plotRight - plotLeft).attr("height", plotBottom - plotTop);

const line = d3.line()
  .x((_, i) => x(hours[i]))
  .y((d) => y(d));

const plot = svg.append("g").attr("clip-path", "url(#plot-clip)");
plot.selectAll("path")
  .data(series)
  .join("path")
  .attr("fill", "none")
  .attr("stroke", (d) => d[1])
  .attr("stroke-width", 1)
  .attr("shape-rendering", "crispEdges")
  .attr("d", (d) => line(d[0]));

// frame with ticks on all four sides
const frame = svg.append("g")
  .attr("stroke", "#000")
  .attr("stroke-width", 1)
  .attr("shape-rendering", "crispEdges");

frame.append("rect")
  .attr("x", plotLeft + 0.5).attr("y", plotTop + 0.5)
  .attr("width", plotRight - plotLeft).attr("height", plotBottom - plotTop)
  .attr("fill", "none");

hourTicks.forEach((h) => {
  const px = Math.round(x(h)) + 0.5;
  frame.append("line").attr("x1", px).attr("x2", px).attr("y1", plotBottom).attr("y2", plotBottom - tickLen);
  frame.append("line").attr("x1", px).attr("x2", px).attr("y1", plotTop).attr("y2", plotTop + tickLen);
});
valueTicks.forEach((v) => {
  const py = Math.round(y(v)) + 0.5;
  frame.append("line").attr("x1", plotLeft).attr("x2", plotLeft + tickLen).attr("y1", py).attr("y2", py);
  frame.append("line").attr("x1", plotRight).attr("x2", plotRight - tickLen).attr("y1", py).attr("y2", py);
});

svg.append("g").selectAll("text")
  .data(hourTicks)
  .join("text")
  .attr("x", (d) => x(d) + 0.5)
  .attr("y", 462)
  .attr("text-anchor", "middle")
  .text((d) => d);

svg.append("g").selectAll("text")
  .data(valueTicks)
  .join("text")
  .attr("x", 44)
  .attr("y", (d) => y(d) + 4)
  .attr("text-anchor", "end")
  .text((d) => d);

svg.append("text")
  .attr("x", 336).attr("y", 19)
  .attr("text-anchor", "middle")
  .text("Cumulative Z-Squared Value");

svg.append("text")
  .attr("x", 336).attr("y", 477)
  .attr("text-anchor", "middle")
  .text("Hour of Day");

svg.append("text")
  .attr("transform", "translate(14,240) rotate(-90)")
  .attr("text-anchor", "middle")
  .text("Cumulative (Z*Z)-1");
</script>
</body>
</html>
